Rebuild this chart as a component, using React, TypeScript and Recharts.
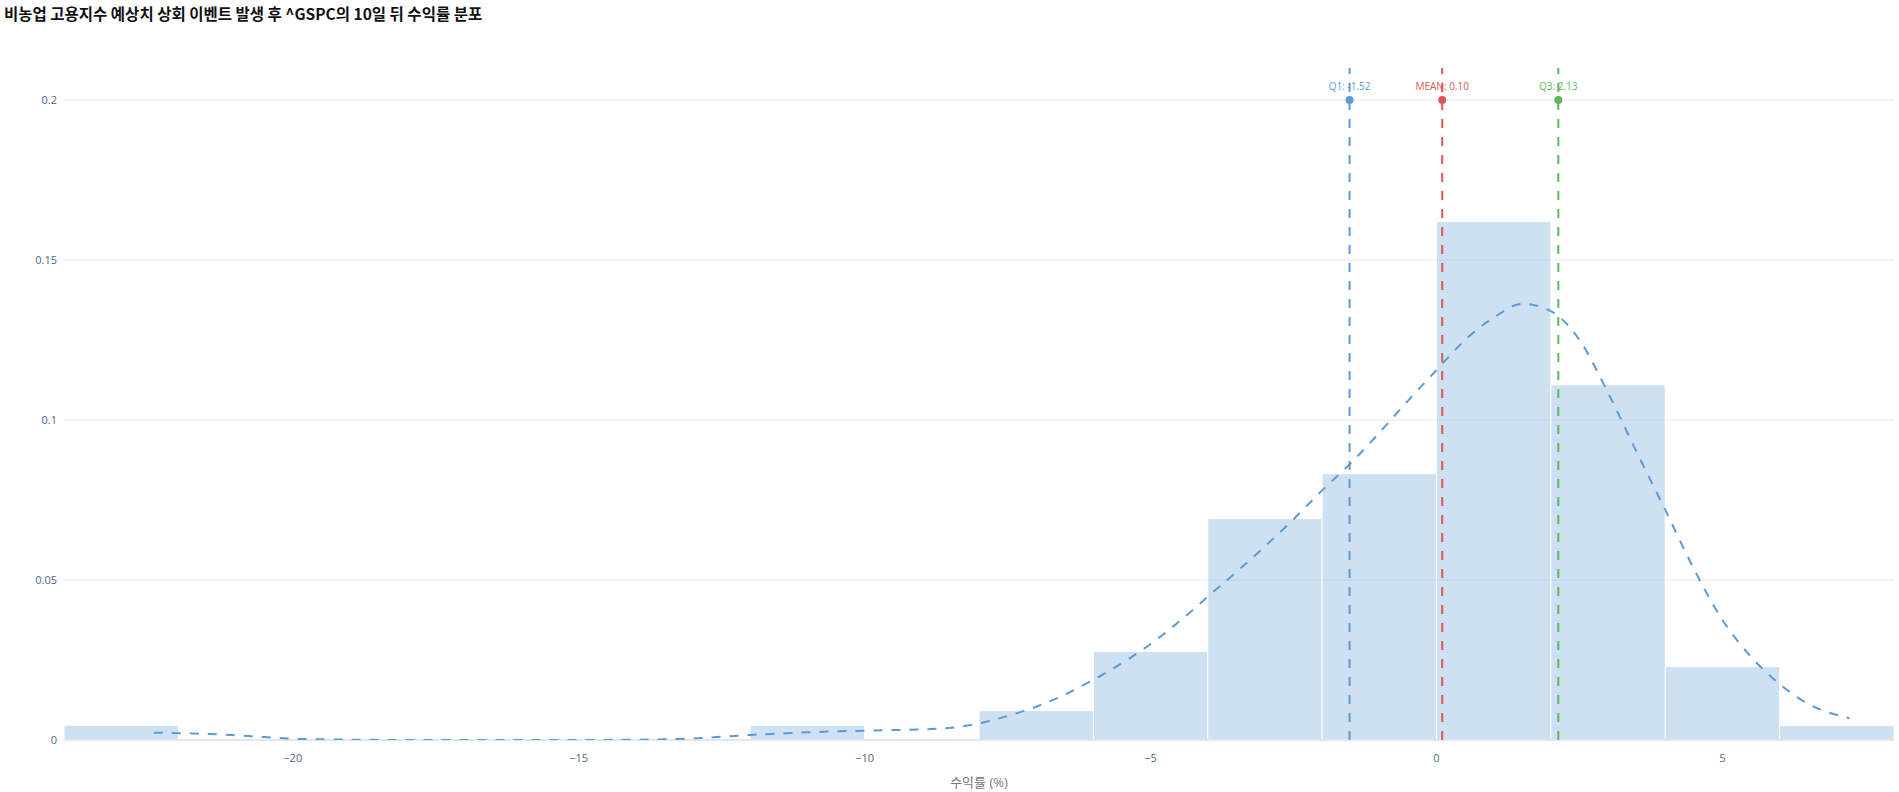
import {
  ComposedChart,
  Line,
  XAxis,
  YAxis,
  CartesianGrid,
  ReferenceArea,
  ReferenceLine,
  ReferenceDot,
} from "recharts";

// histogram (density), bin width 2
const binStarts = [-24, -12, -8, -6, -4, -2, 0, 2, 4, 6];
const binWidth = 2;
const binDensities = [0.0046, 0.0046, 0.0092, 0.0277, 0.0692, 0.0832, 0.162, 0.111, 0.0229, 0.0045];

// KDE curve
const kdeX = [
  -22.43, -21.5, -21, -20.5, -20, -19.5, -19, -18, -17, -16, -15, -14, -13.5, -13, -12.5, -12, -11.5,
  -11, -10.5, -10, -9.5, -9, -8.5, -8, -7.5, -7, -6.5, -6, -5.5, -5, -4.5, -4, -3.5, -3, -2.5, -2,
  -1.5, -1, -0.5, 0, 0.5, 1, 1.5, 2, 2.5, 3, 3.5, 4, 4.5, 5, 5.5, 6, 6.5, 7.22,
];
const kdeY = [
  0.0023, 0.0019, 0.0015, 0.0009, 0.0004, 0.0002, 0.0001, 0.0, 0.0, 0.0, 0.0, 0.0001, 0.0002, 0.0005,
  0.001, 0.0016, 0.002, 0.0024, 0.0027, 0.0029, 0.0031, 0.0033, 0.0038, 0.0052, 0.0075, 0.0104,
  0.0142, 0.0188, 0.024, 0.03, 0.037, 0.0448, 0.0525, 0.0605, 0.069, 0.078, 0.0865, 0.096, 0.106,
  0.1156, 0.125, 0.132, 0.1363, 0.134, 0.125, 0.1085, 0.09, 0.0719, 0.0535, 0.0375, 0.026, 0.0175,
  0.0113, 0.0068,
];

// summary statistics
const statLabels = ["Q1: -1.52", "MEAN: 0.10", "Q3: 2.13"];
const statValues = [-1.52, 0.1, 2.13];
const statMarkerY = 0.2;

const xTicks = [-20, -15, -10, -5, 0, 5];
const yTicks = [0, 0.05, 0.1, 0.15, 0.2];

const statColors = ["#5B9BD5", "#E05555", "#5CB85C"];
const BLUE = "#5B9BD5";
const FONT = "'Open Sans', 'Noto Sans CJK KR', sans-serif";

const kdeData = kdeX.map((x, i) => ({ x, y: kdeY[i] }));

const fmtX = (v: number) => (v < 0 ? "\u2212" + Math.abs(v) : String(v));

export default function App() {
  return (
    <div style={{ position: "absolute", left: 0, top: 0, width: 1899, height: 792, background: "#fff" }}>
      <div
        style={{
          position: "absolute",
          left: 4,
          top: 3,
          fontFamily: "'Noto Sans CJK KR', sans-serif",
          fontWeight: 700,
          fontSize: 15.5,
          color: "#111",
          lineHeight: "20px",
        }}
      >
        비농업 고용지수 예상치 상회 이벤트 발생 후 ^GSPC의 10일 뒤 수익률 분포
      </div>
      <ComposedChart width={1899} height={792} margin={{ top: 68, right: 5, bottom: 0, left: 0 }}>
        <CartesianGrid vertical={false} horizontalValues={yTicks} stroke="#E6EAF0" strokeWidth={1} />
        <XAxis
          dataKey="x"
          type="number"
          domain={[-24, 8]}
          ticks={xTicks}
          tickFormatter={fmtX}
          allowDataOverflow
          axisLine={false}
          tickLine={false}
          tickSize={0}
          tickMargin={14}
          height={52}
          tick={{ fill: "#506784", fontSize: 11, fontFamily: FONT }}
          label={{
            value: "수익률 (%)",
            position: "insideBottom",
            offset: 5,
            fill: "#777",
            fontSize: 13,
            fontFamily: FONT,
          }}
        />
        <YAxis
          type="number"
          domain={[0, 0.21]}
          ticks={yTicks}
          allowDataOverflow
          axisLine={false}
          tickLine={false}
          tickSize={0}
          tickMargin={7}
          width={64}
          tick={{ fill: "#506784", fontSize: 11, fontFamily: FONT }}
        />
        {binStarts.map((s, i) => (
          <ReferenceArea
            key={"bin" + i}
            x1={s}
            x2={s + binWidth}
            y1={0}
            y2={binDensities[i]}
            fill={BLUE}
            fillOpacity={0.3}
            stroke="#fff"
            strokeWidth={1}
            ifOverflow="visible"
          />
        ))}
        <ReferenceLine y={0} stroke="#E2E6EE" strokeWidth={2} />
        <Line
          data={kdeData}
          dataKey="y"
          type="monotone"
          stroke={BLUE}
          strokeWidth={2}
          strokeDasharray="9 9"
          dot={false}
          activeDot={false}
          isAnimationActive={false}
        />
        {statValues.map((v, i) => (
          <ReferenceLine
            key={"line" + i}
            x={v}
            stroke={statColors[i]}
            strokeWidth={2}
            strokeDasharray="9 9"
          />
        ))}
        {statValues.map((v, i) => (
          <ReferenceDot
            key={"dot" + i}
            x={v}
            y={statMarkerY}
            r={4}
            fill={statColors[i]}
            stroke="none"
            label={{
              value: statLabels[i],
              position: "top",
              offset: 6,
              fill: statColors[i],
              fontSize: 10,
              fontFamily: FONT,
            }}
          />
        ))}
      </ComposedChart>
    </div>
  );
}
